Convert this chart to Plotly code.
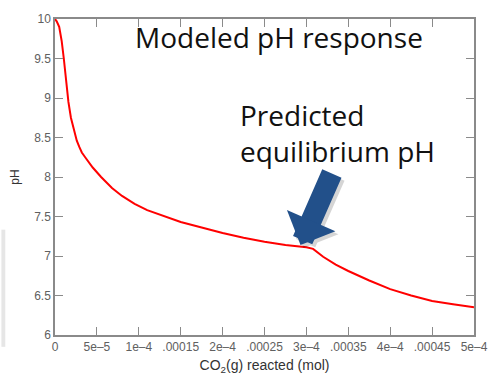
import plotly.graph_objects as go

# Modeled titration: pH as CO2(g) is reacted
co2_mol = [0, 2e-6, 5e-6, 8e-6, 1.05e-5, 1.25e-5, 1.4e-5, 1.6e-5, 1.9e-5, 2.3e-5,
           2.6e-5, 2.9e-5, 3.2e-5, 3.6e-5, 4e-5, 4.5e-5, 5.5e-5, 6.8e-5, 8e-5,
           9.5e-5, 1.1e-4, 1.3e-4, 1.5e-4, 1.75e-4, 2e-4, 2.25e-4, 2.5e-4,
           2.75e-4, 3.0e-4, 3.08e-4, 3.2e-4, 3.35e-4, 3.5e-4, 3.75e-4, 4.0e-4,
           4.25e-4, 4.5e-4, 4.75e-4, 5.0e-4]
ph = [10.0, 9.97, 9.9, 9.72, 9.5, 9.3, 9.1, 8.95, 8.75, 8.57,
      8.46, 8.38, 8.31, 8.25, 8.19, 8.12, 8.0, 7.86, 7.76,
      7.66, 7.58, 7.5, 7.43, 7.36, 7.29, 7.23, 7.18,
      7.14, 7.11, 7.09, 6.99, 6.89, 6.81, 6.69, 6.58,
      6.5, 6.43, 6.39, 6.35]

x_tickvals = [0, 5e-5, 1e-4, 1.5e-4, 2e-4, 2.5e-4, 3e-4, 3.5e-4, 4e-4, 4.5e-4, 5e-4]
x_ticktext = ["0", "5e–5", "1e–4", ".00015", "2e–4", ".00025", "3e–4", ".00035",
              "4e–4", ".00045", "5e–4"]
y_tickvals = [6, 6.5, 7, 7.5, 8, 8.5, 9, 9.5, 10]
y_ticktext = ["6", "6.5", "7", "7.5", "8", "8.5", "9", "9.5", "10"]

# equilibrium point indicated by the arrow
eq_x, eq_y = 2.93e-4, 7.14

fig = go.Figure()
fig.add_trace(go.Scatter(x=co2_mol, y=ph, mode="lines",
                         line=dict(color="#ff0000", width=2),
                         hoverinfo="skip", showlegend=False))

axis_common = dict(showgrid=False, zeroline=False, showline=True, linecolor="#8a8a8a",
                   linewidth=1.5, mirror="ticks", ticks="inside", ticklen=8,
                   tickcolor="#8a8a8a", tickwidth=1.2,
                   tickfont=dict(family="Liberation Sans, Arial", size=12, color="#606060"))

fig.update_xaxes(range=[0, 5e-4], tickvals=x_tickvals, ticktext=x_ticktext,
                 title=dict(text="CO<sub>2</sub>(g) reacted (mol)", standoff=7,
                            font=dict(family="Liberation Sans, Arial", size=14, color="#333333")),
                 **axis_common)
fig.update_yaxes(range=[6, 10], tickvals=y_tickvals, ticktext=y_ticktext,
                 title=dict(text="pH", standoff=12,
                            font=dict(family="Liberation Sans, Arial", size=12, color="#333333")),
                 **axis_common)

text_font = dict(family="Open Sans", size=28, color="#111111")
annotations = [
    dict(text="Modeled pH response", xref="paper", yref="paper", x=0.187, y=0.943,
         xanchor="left", yanchor="middle", showarrow=False, font=text_font),
    dict(text="Predicted<br>equilibrium pH", xref="paper", yref="paper", x=0.436, y=0.64,
         xanchor="left", yanchor="middle", align="left", showarrow=False, font=text_font),
    # soft shadow under the block arrow
    dict(x=eq_x, y=eq_y, xref="x", yref="y", ax=32, ay=-73, text="", showarrow=True,
         arrowhead=1, arrowwidth=21, arrowsize=0.42, arrowcolor="rgba(0,0,0,0.16)",
         xshift=3, yshift=-3),
    dict(x=eq_x, y=eq_y, xref="x", yref="y", ax=32, ay=-73, text="", showarrow=True,
         arrowhead=1, arrowwidth=21, arrowsize=0.42, arrowcolor="#22508a"),
]

fig.update_layout(
    width=500, height=384,
    margin=dict(l=55, r=15, t=14, b=49),
    paper_bgcolor="white", plot_bgcolor="white",
    annotations=annotations,
    shapes=[dict(type="rect", xref="paper", yref="paper",
                 x0=-55 / 430, x1=-51 / 430, y0=-12 / 321, y1=107 / 321,
                 fillcolor="#e6e6e6", line=dict(width=0), layer="below")],
)

fig.write_html("out.html")
